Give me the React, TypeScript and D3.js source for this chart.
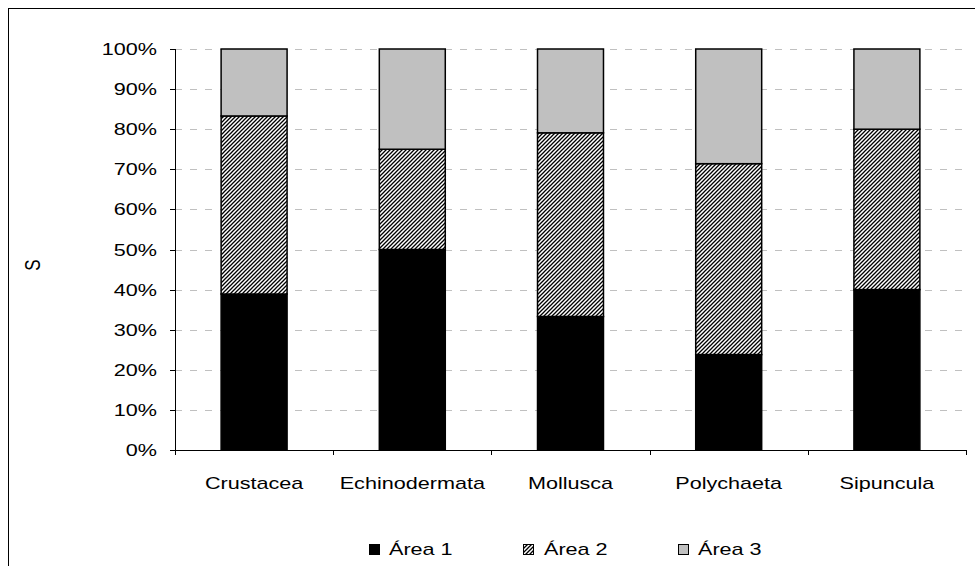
import React from "react";
import * as d3 from "d3";

const categories = ["Crustacea", "Echinodermata", "Mollusca", "Polychaeta", "Sipuncula"];
const area1 = [38.9, 50.0, 33.3, 23.8, 40.0];
const area2 = [44.4, 25.0, 45.8, 47.6, 40.0];
const area3 = [16.7, 25.0, 20.9, 28.6, 20.0];
const seriesNames = ["Área 1", "Área 2", "Área 3"];
const yTicks = [0, 10, 20, 30, 40, 50, 60, 70, 80, 90, 100];

const W = 975, H = 566;
const left = 175, right = 966, top = 49, bottom = 450;
const FONT = "Arial, 'Liberation Sans', sans-serif";
const SX = 1.27;

function T({ x, y, anchor = "start", children, size = 17, rotate = 0 }: any) {
  return (
    <text transform={`translate(${x},${y}) rotate(${rotate}) scale(${SX},1)`} textAnchor={anchor} fontSize={size}>
      {children}
    </text>
  );
}

export default function App() {
  const x = d3.scaleBand<string>().domain(categories).range([left, right]).paddingInner(0.583).paddingOuter(0.2915);
  const y = d3.scaleLinear().domain([0, 100]).range([bottom, top]);
  const rows = categories.map((c, i) => ({ cat: c, a1: area1[i], a2: area2[i], a3: area3[i] }));
  const stack = d3.stack<any>().keys(["a1", "a2", "a3"])(rows);
  const fills = ["#000000", "url(#hatch)", "#c0c0c0"];
  const bw = (right - left) / categories.length;
  const legendX = [369, 523, 678];
  const legendTX = [389, 544, 698];
  return (
    <svg width={W} height={H} style={{ position: "absolute", left: 0, top: 0, background: "#fff" }} fontFamily={FONT}>
      <defs>
        <pattern id="hatch" patternUnits="userSpaceOnUse" width={4} height={4}>
          <rect width={4} height={4} fill="#fff" />
          <path d="M-1,1 l2,-2 M0,4 l4,-4 M3,5 l2,-2" stroke="#000" strokeWidth={1.3} />
        </pattern>
      </defs>
      <rect x={0} y={0} width={W} height={H} fill="#fff" />
      <line x1={8} x2={W} y1={8.5} y2={8.5} stroke="#000" />
      <line x1={8.5} x2={8.5} y1={8} y2={H} stroke="#000" />
      {yTicks.filter(t => t > 0).map(t => (
        <line key={"g" + t} x1={left} x2={right} y1={Math.round(y(t)) + 0.5} y2={Math.round(y(t)) + 0.5}
          stroke="#c0c0c0" strokeDasharray="7,8" />
      ))}
      {stack.map((s, si) => s.map((d, i) => (
        <rect key={si + "-" + i} x={x(categories[i])!} width={x.bandwidth()}
          y={y(d[1])} height={y(d[0]) - y(d[1])} fill={fills[si]} stroke="#000" strokeWidth={1.5} />
      )))}
      <line x1={left + 0.5} x2={left + 0.5} y1={top} y2={bottom} stroke="#000" />
      <line x1={left} x2={right} y1={bottom + 0.5} y2={bottom + 0.5} stroke="#000" />
      {yTicks.map(t => (
        <g key={"t" + t}>
          <line x1={left - 5} x2={left} y1={Math.round(y(t)) + 0.5} y2={Math.round(y(t)) + 0.5} stroke="#000" />
          <T x={157} y={y(t) + 6} anchor="end">{t + "%"}</T>
        </g>
      ))}
      {d3.range(categories.length + 1).map(i => (
        <line key={"xt" + i} x1={Math.round(left + i * bw) + 0.5} x2={Math.round(left + i * bw) + 0.5}
          y1={bottom} y2={bottom + 5} stroke="#000" />
      ))}
      {categories.map(c => (
        <T key={c} x={x(c)! + x.bandwidth() / 2} y={489} anchor="middle">{c}</T>
      ))}
      <text transform="translate(40,265) rotate(-90) scale(1,1.27)" textAnchor="middle" fontSize={17}>S</text>
      {seriesNames.map((n, i) => (
        <g key={n}>
          <rect x={legendX[i] + 0.5} y={544.5} width={10} height={10} fill={fills[i]} stroke="#000" />
          <T x={legendTX[i]} y={555}>{n}</T>
        </g>
      ))}
    </svg>
  );
}
